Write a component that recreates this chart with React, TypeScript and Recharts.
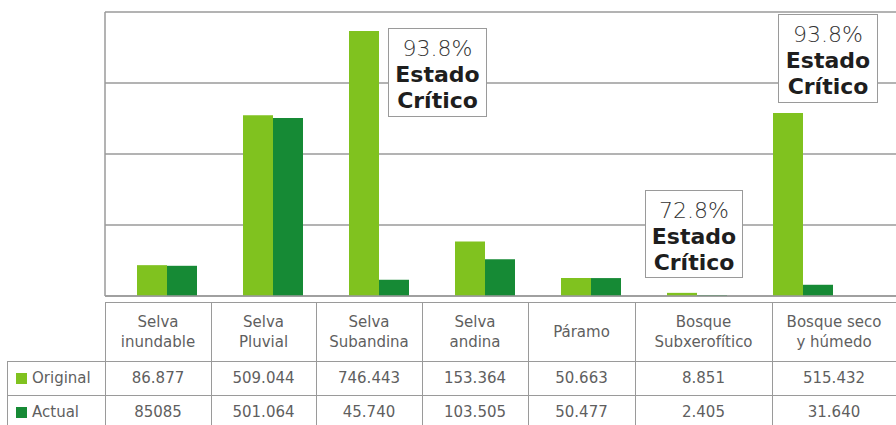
import React from 'react';
import { BarChart, Bar, XAxis, YAxis, CartesianGrid } from 'recharts';

const categories = ['Selva inundable', 'Selva Pluvial', 'Selva Subandina', 'Selva andina', 'Páramo', 'Bosque Subxerofítico', 'Bosque seco y húmedo'];
const headerLines = [['Selva', 'inundable'], ['Selva', 'Pluvial'], ['Selva', 'Subandina'], ['Selva', 'andina'], ['Páramo'], ['Bosque', 'Subxerofítico'], ['Bosque seco', 'y húmedo']];
const originalValues = [86877, 509044, 746443, 153364, 50663, 8851, 515432];
const actualValues = [85085, 501064, 45740, 103505, 50477, 2405, 31640];
const originalLabels = ['86.877', '509.044', '746.443', '153.364', '50.663', '8.851', '515.432'];
const actualLabels = ['85085', '501.064', '45.740', '103.505', '50.477', '2.405', '31.640'];
const yTicks = [0, 200000, 400000, 600000, 800000];
const annotations = [
  { pct: '93.8%', title: 'Estado', sub: 'Crítico' },
  { pct: '72.8%', title: 'Estado', sub: 'Crítico' },
  { pct: '93.8%', title: 'Estado', sub: 'Crítico' },
];

const LIGHT = '#80c21f';
const DARK = '#168a35';
const LINE = '#9a9a9a';
const TEXT = '#5f5f5f';
const FONT = '"DejaVu Sans", sans-serif';

const data = categories.map((c, i) => ({ name: c, original: originalValues[i], actual: actualValues[i] }));

const colEdges = [105, 211, 316, 422, 528, 635, 772, 896];
const boxPos = [
  { left: 388, top: 28, width: 99, height: 89 },
  { left: 645, top: 190, width: 98, height: 88 },
  { left: 778, top: 14, width: 100, height: 89 },
];

const abs = (s: React.CSSProperties): React.CSSProperties => ({ position: 'absolute', boxSizing: 'border-box', ...s });

const NoTick = () => <g />;

export default function App() {
  const hLine = (top: number, left: number, right: number, key: string) => (
    <div key={key} style={abs({ top, left, width: right - left, height: 0, borderTop: `1.5px solid ${LINE}` })} />
  );
  const vLine = (left: number, top: number, bottom: number, key: string) => (
    <div key={key} style={abs({ top, left, width: 0, height: bottom - top, borderLeft: `1.5px solid ${LINE}` })} />
  );
  const rowTop = [361, 395];
  const rowText = [originalLabels, actualLabels];
  const rowNames = ['Original', 'Actual'];
  const rowColors = [LIGHT, DARK];
  return (
    <div style={abs({ left: 0, top: 0, width: 896, height: 425, background: '#fff', overflow: 'hidden', fontFamily: FONT })}>
      <div style={abs({ left: 0, top: 0 })}>
        <BarChart width={896} height={300} data={data} margin={{ top: 12, right: 0, bottom: 3, left: 104 }} barGap={0} barSize={30}>
          <CartesianGrid horizontal vertical={false} stroke={LINE} strokeWidth={1.5} />
          <XAxis dataKey="name" height={1} tick={NoTick} tickLine={false} axisLine={{ stroke: LINE, strokeWidth: 1.5 }} padding={{ left: 9, right: 40 }} />
          <YAxis width={1} type="number" domain={[0, 800000]} ticks={yTicks} tick={NoTick} tickLine={false} axisLine={{ stroke: LINE, strokeWidth: 1.5 }} />
          <Bar dataKey="original" fill={LIGHT} isAnimationActive={false} />
          <Bar dataKey="actual" fill={DARK} isAnimationActive={false} />
        </BarChart>
      </div>

      {annotations.map((a, i) => (
        <div key={'ann' + i} style={abs({ ...boxPos[i], background: '#fff', border: `1.5px solid ${LINE}`, textAlign: 'center', paddingTop: 7, lineHeight: '26px', fontSize: 22, color: '#1e1e1e' })}>
          <div style={{ fontWeight: 200, color: '#333' }}>{a.pct}</div>
          <div style={{ fontWeight: 700 }}>{a.title}</div>
          <div style={{ fontWeight: 700 }}>{a.sub}</div>
        </div>
      ))}

      {hLine(302, 105, 896, 'h0')}
      {hLine(rowTop[0], 7, 896, 'h1')}
      {hLine(rowTop[1], 7, 896, 'h2')}
      {vLine(7, 361, 430, 'vl')}
      {colEdges.slice(0, 7).map((x, i) => vLine(x, 302, 430, 'v' + i))}

      {headerLines.map((lines, i) => (
        <div key={'hd' + i} style={abs({ left: colEdges[i], top: 302, width: colEdges[i + 1] - colEdges[i], height: 59, display: 'flex', flexDirection: 'column', justifyContent: 'center', alignItems: 'center', fontSize: 15, lineHeight: '20px', color: TEXT })}>
          {lines.map((l, j) => <div key={j}>{l}</div>)}
        </div>
      ))}

      {rowText.map((labels, r) => (
        <React.Fragment key={'r' + r}>
          <div style={abs({ left: 7, top: rowTop[r], width: 98, height: 34, display: 'flex', alignItems: 'center', fontSize: 15, color: TEXT })}>
            <span style={{ display: 'inline-block', width: 11, height: 11, background: rowColors[r], marginLeft: 9, marginRight: 5 }} />
            {rowNames[r]}
          </div>
          {labels.map((t, i) => (
            <div key={i} style={abs({ left: colEdges[i], top: rowTop[r], width: colEdges[i + 1] - colEdges[i], height: 34, display: 'flex', alignItems: 'center', justifyContent: 'center', fontSize: 15, color: TEXT })}>
              {t}
            </div>
          ))}
        </React.Fragment>
      ))}
    </div>
  );
}
